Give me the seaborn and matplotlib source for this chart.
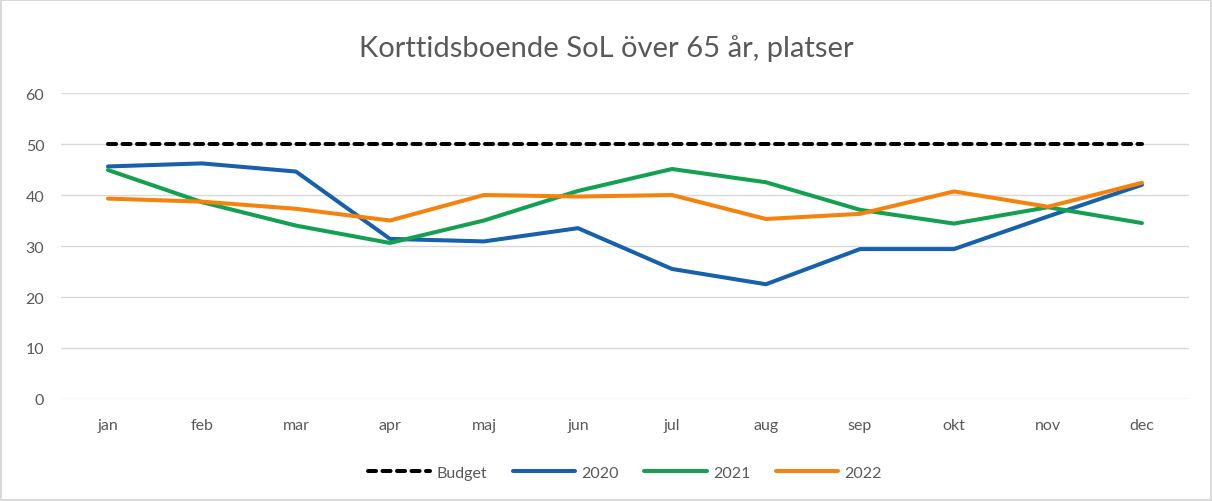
import pandas as pd
import numpy as np
import matplotlib
matplotlib.use("Agg")
import matplotlib.pyplot as plt
import seaborn as sns

# data
months = ['jan', 'feb', 'mar', 'apr', 'maj', 'jun', 'jul', 'aug', 'sep', 'okt', 'nov', 'dec']
budget = [50] * 12
y2020 = [45.6, 46.2, 44.6, 31.4, 30.9, 33.5, 25.5, 22.5, 29.4, 29.4, 35.8, 42.0]
y2021 = [44.9, 38.6, 34.0, 30.6, 35.0, 40.8, 45.1, 42.5, 37.1, 34.4, 37.6, 34.5]
y2022 = [39.3, 38.7, 37.3, 35.0, 40.0, 39.7, 40.0, 35.3, 36.3, 40.7, 37.7, 42.4]

series = {'Budget': budget, '2020': y2020, '2021': y2021, '2022': y2022}
colors = {'Budget': '#000000', '2020': '#1660AC', '2021': '#13A050', '2022': '#F5820C'}

# long format for seaborn
df = pd.DataFrame({'Månad': months, **series})
df['x'] = np.arange(len(months))
long = df.melt(id_vars=['Månad', 'x'], var_name='Serie', value_name='Platser')

sns.set_style('white')
plt.rcParams['font.family'] = ['Lato', 'DejaVu Sans']

fig = plt.figure(figsize=(12.12, 5.02), dpi=100)
fig.patch.set_edgecolor('#D9D9D9')
fig.patch.set_linewidth(1.5)
ax = fig.add_axes([0.0503, 0.2032, 0.9307, 0.6095])

for name in ['2020', '2021', '2022']:
    sns.lineplot(data=long[long['Serie'] == name], x='x', y='Platser', color=colors[name],
                 lw=2.9, ax=ax, label=name, solid_capstyle='round')
sns.lineplot(data=long[long['Serie'] == 'Budget'], x='x', y='Platser', color='black',
             lw=2.9, ax=ax, label='Budget', linestyle=(0, (2.0, 1.6)), dash_capstyle='round')

ax.set_xlim(-0.5, 11.5)
ax.set_ylim(0, 60)
ax.set_yticks(range(0, 61, 10))
ax.set_xticks(df['x'])
ax.set_xticklabels(months)
ax.yaxis.grid(True, color='#D9D9D9', lw=1)
ax.set_axisbelow(True)
for s in ax.spines.values():
    s.set_visible(False)
ax.tick_params(axis='both', length=0, labelsize=11.5, labelcolor='#595959')
ax.tick_params(axis='x', pad=14)
ax.tick_params(axis='y', pad=12)
ax.set_xlabel('')
ax.set_ylabel('')

fig.suptitle('Korttidsboende SoL över 65 år, platser', y=0.93, fontsize=21, color='#595959')

handles, labels = ax.get_legend_handles_labels()
order = [labels.index(l) for l in ['Budget', '2020', '2021', '2022']]
ax.legend([handles[i] for i in order], [labels[i] for i in order], ncol=4,
          loc='center', bbox_to_anchor=(0.5, -0.24), frameon=False, fontsize=11.5,
          labelcolor='#595959', handlelength=3.9, columnspacing=1.6, handletextpad=0.4)

fig.savefig('out.png', dpi=100)
